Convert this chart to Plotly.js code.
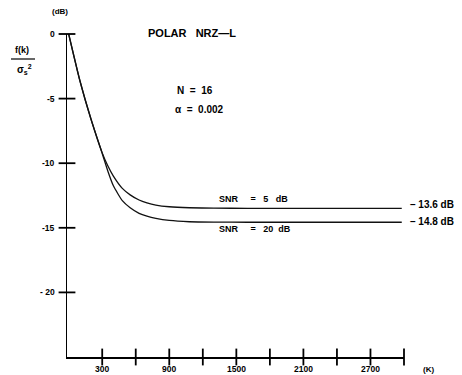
<!DOCTYPE html>
<html>
<head>
<meta charset="utf-8">
<script src="https://cdn.plot.ly/plotly-3.0.1.min.js"></script>
<style>html,body{margin:0;padding:0;background:#fff}#chart{width:462px;height:375px}</style>
</head>
<body>
<div id="chart"></div>
<script>
// Data
const K = [0, 100, 200, 300, 350, 400, 480, 550, 630, 700, 780, 900, 1080, 1300, 1600, 2000, 2500, 2980];
const snr5 = [0, -3.6, -6.6, -9.2, -10.2, -11.0, -11.95, -12.45, -12.85, -13.07, -13.24, -13.37, -13.45, -13.48, -13.49, -13.49, -13.49, -13.49];
const snr20 = [0, -3.6, -6.6, -9.25, -10.6, -11.75, -12.9, -13.45, -13.88, -14.1, -14.27, -14.43, -14.53, -14.56, -14.57, -14.57, -14.57, -14.57];
const xTickVals = [300, 600, 900, 1200, 1500, 1800, 2100, 2400, 2700, 3000];
const xTickText = ["300", "", "900", "", "1500", "", "2100", "", "2700", ""];
const yTickVals = [0, -5, -10, -15, -20];
const yTickText = ["0", "-5", "-10", "-15", "- 20"];
const xRange = [-15, 3000];
const yRange = [-25, 0];

const L = 67, T = 34, W = 337, H = 323;
const ax = px => (px - L) / W;
const ay = py => 1 - (py - T) / H;
const F = {family: "Liberation Sans, Arial, sans-serif", color: "#000", weight: "bold"};
const f = s => Object.assign({}, F, {size: s});

const lineStyle = {color: "#111", width: 1.3, shape: "spline", smoothing: 0.5};
const tickMarker = sym => ({symbol: sym, size: 12, color: "#000", line: {color: "#000", width: 1.8}});
const traces = [
  {x: K, y: snr5, mode: "lines", line: lineStyle, name: "SNR = 5 dB", hoverinfo: "skip"},
  {x: K, y: snr20, mode: "lines", line: lineStyle, name: "SNR = 20 dB", hoverinfo: "skip"},
  // crossing tick marks on both axes
  {x: xTickVals, y: xTickVals.map(() => yRange[0]), mode: "markers", marker: tickMarker("line-ns-open"), cliponaxis: false, hoverinfo: "skip"},
  {x: yTickVals.map(() => xRange[0]), y: yTickVals, mode: "markers", marker: tickMarker("line-ew-open"), cliponaxis: false, hoverinfo: "skip"}
];

const axCommon = {showgrid: false, zeroline: false, ticks: "", showline: true, linecolor: "#000", linewidth: 1.5,
                  showticklabels: false, fixedrange: true, layer: "below traces"};

// tick labels placed on the axes' own scales
const xLabels = xTickVals.map((v, i) => ({text: xTickText[i], x: v, xref: "x", y: ay(369), yref: "paper", font: f(8.5)}))
  .filter(a => a.text !== "");
const yLabels = yTickVals.map((v, i) => ({text: yTickText[i], x: ax(57), xref: "paper", y: v, yref: "y", xanchor: "right", font: f(8.5)}));

const layout = {
  width: 462, height: 375,
  margin: {l: L, r: 462 - L - W, t: T, b: 375 - T - H, pad: 0},
  paper_bgcolor: "#fff", plot_bgcolor: "#fff",
  showlegend: false,
  title: {text: "POLAR&nbsp;&nbsp;&nbsp;NRZ\u2014L", x: 148 / 462, xanchor: "left", xref: "container",
          y: 1 - 33 / 375, yanchor: "middle", yref: "container", font: f(11)},
  xaxis: Object.assign({}, axCommon, {range: xRange}),
  yaxis: Object.assign({}, axCommon, {range: yRange}),
  shapes: [
    {type: "line", xref: "paper", yref: "paper", x0: ax(11), x1: ax(35), y0: ay(59), y1: ay(59), line: {color: "#000", width: 1.2}}
  ],
  annotations: [
    {text: "(dB)", x: ax(60), y: ay(11), font: f(8)},
    {text: "f(k)", x: ax(22), y: ay(50), font: f(9)},
    {text: "\u03c3<sub>s</sub><sup>2</sup>", x: ax(24), y: ay(70), font: f(10)},
    {text: "N&nbsp;&nbsp;=&nbsp;&nbsp;16", x: ax(175), y: ay(90), xanchor: "left", font: f(10)},
    {text: "\u03b1&nbsp;&nbsp;=&nbsp;&nbsp;0.002", x: ax(173), y: ay(109), xanchor: "left", font: f(10)},
    {text: "SNR&nbsp;&nbsp;&nbsp;&nbsp;&nbsp;=&nbsp;&nbsp;&nbsp;5&nbsp;&nbsp;&nbsp;dB", x: ax(217), y: ay(199), xanchor: "left", font: f(9)},
    {text: "SNR&nbsp;&nbsp;&nbsp;&nbsp;&nbsp;=&nbsp;&nbsp;&nbsp;20&nbsp;&nbsp;dB", x: ax(217), y: ay(229), xanchor: "left", font: f(9)},
    {text: "\u2013 13.6 dB", x: ax(408), y: ay(204), xanchor: "left", font: f(10)},
    {text: "\u2013 14.8 dB", x: ax(408), y: ay(221), xanchor: "left", font: f(10)},
    {text: "(K)", x: ax(421), y: ay(369), xanchor: "left", font: f(8)}
  ].concat(xLabels, yLabels)
   .map(a => Object.assign({xref: "paper", yref: "paper", showarrow: false, xanchor: "center", yanchor: "middle"}, a))
};

Plotly.newPlot("chart", traces, layout, {staticPlot: true, displayModeBar: false});
</script>
</body>
</html>
